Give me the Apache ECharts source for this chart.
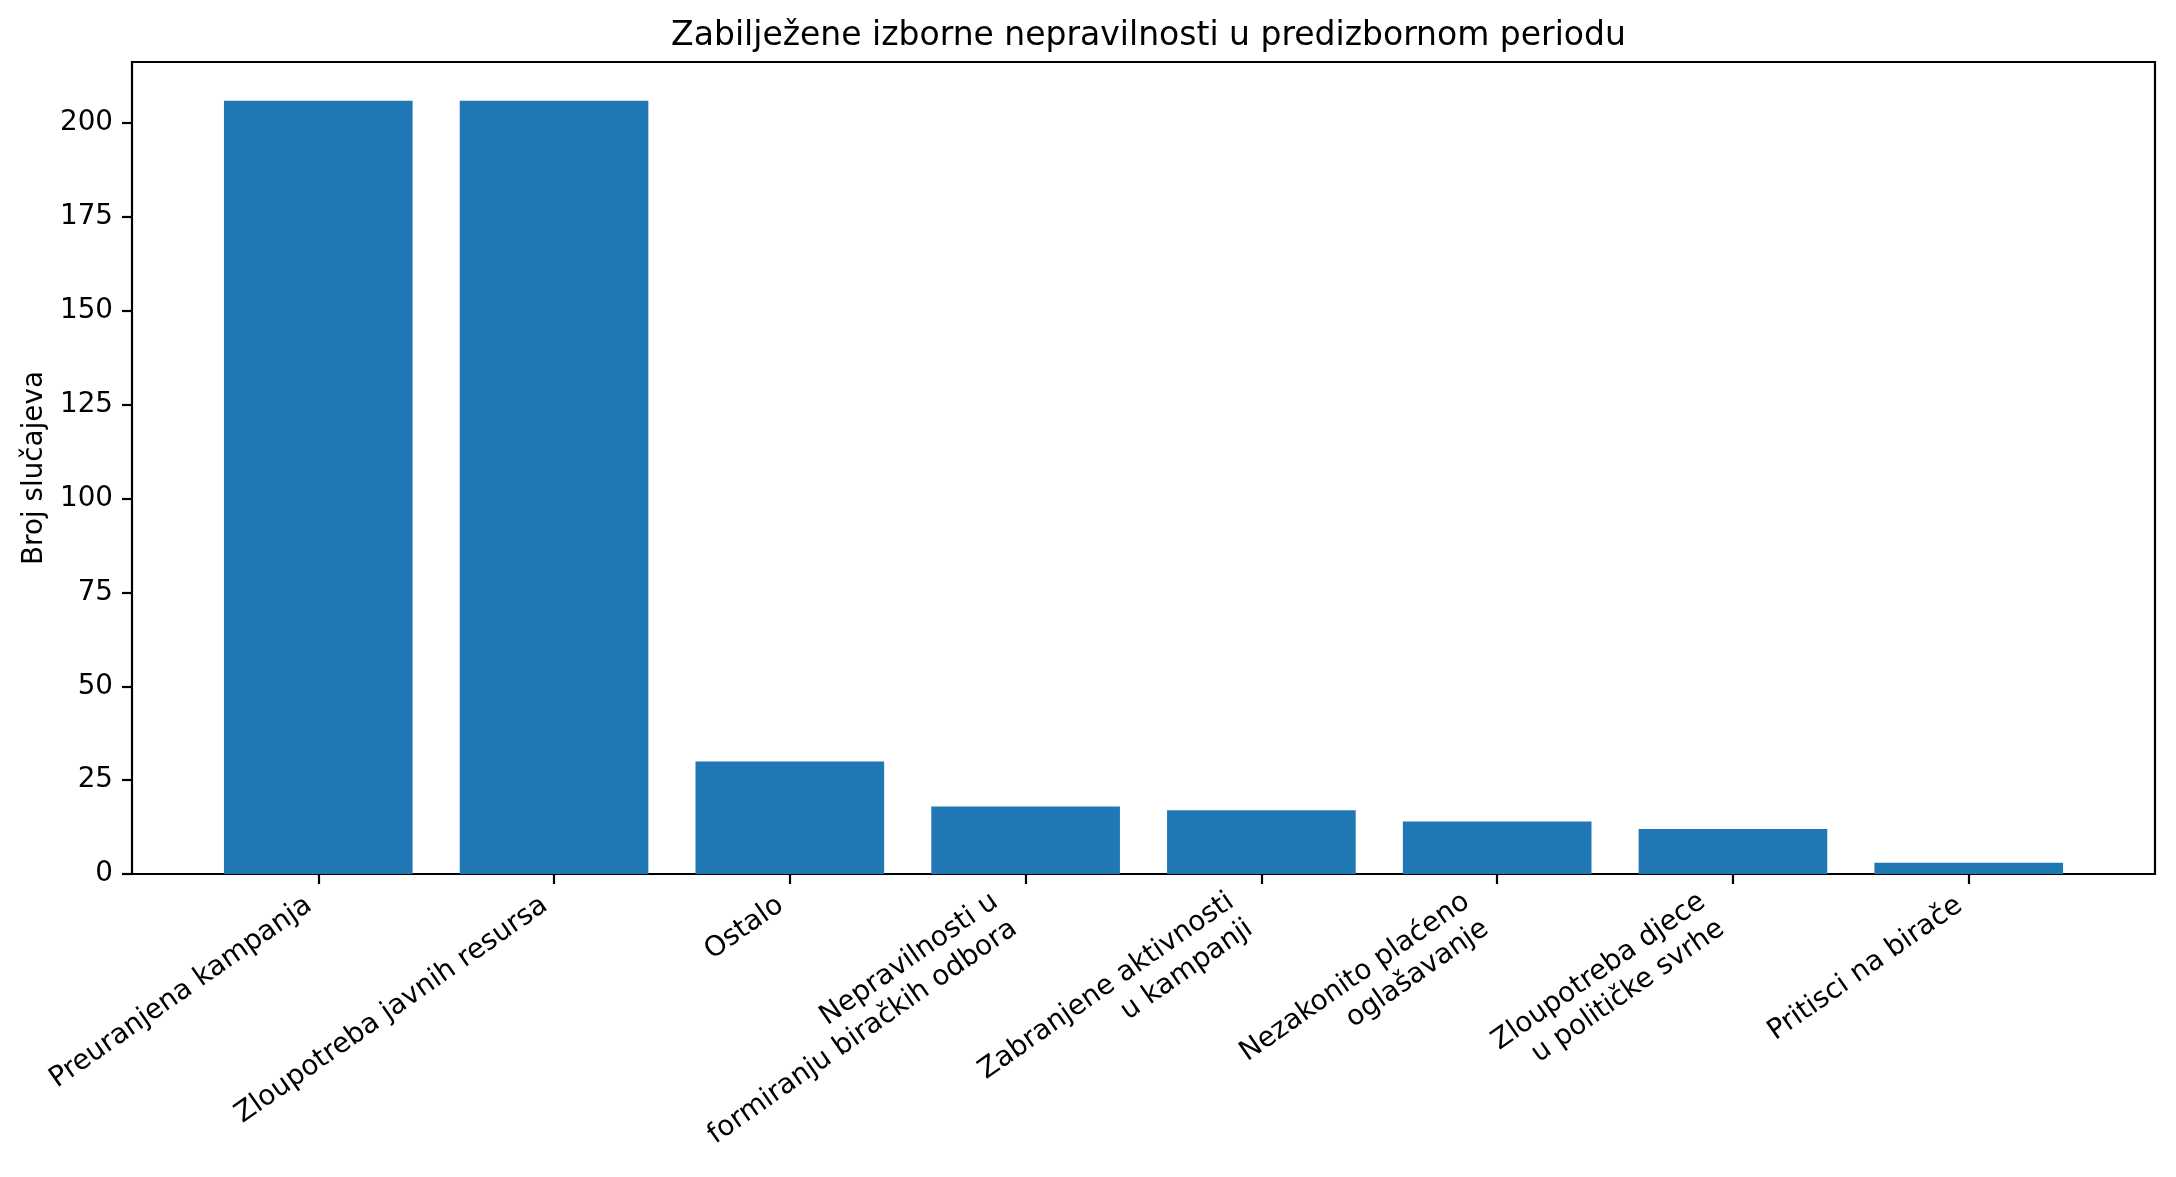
<!DOCTYPE html>
<html>
<head>
<meta charset="utf-8">
<script src="https://cdn.jsdelivr.net/npm/echarts@6/dist/echarts.min.js"></script>
<style>
    html, body { margin: 0; padding: 0; background: #fff; }
    #chart { width: 2176px; height: 1177px; }
</style>
</head>
<body>
<div id="chart"></div>
<script>
    var categories = [
        'Preuranjena kampanja',
        'Zloupotreba javnih resursa',
        'Ostalo',
        'Nepravilnosti u\nformiranju biračkih odbora',
        'Zabranjene aktivnosti\nu kampanji',
        'Nezakonito plaćeno\noglašavanje',
        'Zloupotreba djece\nu političke svrhe',
        'Pritisci na birače'
    ];
    var counts = [206, 206, 30, 18, 17, 14, 12, 3];

    var titleText = 'Zabilježene izborne nepravilnosti u predizbornom periodu';
    var yName = 'Broj slučajeva';
    var yMax = 216.3;
    var yStep = 25;

    var FONT = '"DejaVu Sans", sans-serif';
    var BLACK = '#000';
    var FONT_SIZE = 27.8;
    var LINE_H = 33;

    // outer box (the frame) and inner box where the category bands sit,
    // so bars land where matplotlib's -0.79..7.79 x-limits put them
    var frame = { left: 132, right: 21, top: 62, bottom: 303 };
    var unit = (2176 - frame.left - frame.right) / 8.58;
    var inner = {
        left: frame.left + 0.29 * unit,
        right: frame.right + 0.29 * unit,
        top: frame.top,
        bottom: frame.bottom
    };

    // matplotlib puts the top-right corner of the rotated label's bbox
    // under the tick; echarts rotates around the text anchor, so pad the
    // box to shift it there
    var ROT = 35 * Math.PI / 180;
    var LABEL_MARGIN = -8;
    var LABEL_DX = 24;
    var LABEL_DY = 49;
    var EXTRA_LINE_DX = 8;
    var EXTRA_LINE_DY = 11;

    function labelPadding(text) {
        var lines = text.split('\n').length;
        var h = lines * LINE_H;
        var s = Math.sin(ROT), c = Math.cos(ROT);
        // wanted screen offset of the text's top-right corner from the anchor
        var x0 = -h * s + LABEL_DX + (lines - 1) * EXTRA_LINE_DX;
        var y0 = LABEL_DY + (lines - 1) * EXTRA_LINE_DY - LABEL_MARGIN;
        var pr = -x0 * c + y0 * s;
        var pt = x0 * s + y0 * c;
        return [pt, pr, 0, 0];
    }

    var categoryItems = categories.map(function (name) {
        return { value: name, textStyle: { padding: labelPadding(name) } };
    });

    var chart = echarts.init(document.getElementById('chart'));

    chart.setOption({
        animation: false,
        backgroundColor: '#fff',
        title: {
            text: titleText,
            left: (frame.left + 2176 - frame.right) / 2,
            textAlign: 'center',
            top: 15,
            textStyle: { fontFamily: FONT, fontSize: 33, fontWeight: 'normal', color: BLACK }
        },
        grid: [
            {
                left: frame.left, right: frame.right, top: frame.top, bottom: frame.bottom,
                show: true, borderColor: BLACK, borderWidth: 2.2, backgroundColor: 'transparent'
            },
            {
                left: inner.left, right: inner.right, top: inner.top, bottom: inner.bottom
            }
        ],
        xAxis: [
            { type: 'value', gridIndex: 0, min: 0, max: 1, show: false },
            {
                type: 'category',
                gridIndex: 1,
                data: categoryItems,
                axisLine: { show: false },
                axisTick: {
                    show: true, alignWithLabel: true, length: 10,
                    lineStyle: { color: BLACK, width: 2.2 }
                },
                axisLabel: {
                    interval: 0,
                    rotate: 35,
                    margin: LABEL_MARGIN,
                    align: 'right',
                    verticalAlign: 'top',
                    color: BLACK,
                    fontFamily: FONT,
                    fontSize: FONT_SIZE,
                    lineHeight: LINE_H,
                    // rich tokens so the per-item padding is honoured
                    formatter: function (v) {
                        return v.split('\n').map(function (s) { return '{c|' + s + '}'; }).join('\n');
                    },
                    rich: {
                        c: { align: 'right', fontFamily: FONT, fontSize: FONT_SIZE, lineHeight: LINE_H, color: BLACK }
                    }
                },
                splitLine: { show: false }
            }
        ],
        yAxis: [
            {
                type: 'value',
                gridIndex: 0,
                min: 0,
                max: yMax,
                interval: yStep,
                name: yName,
                nameLocation: 'middle',
                nameGap: 82,
                nameTextStyle: { fontFamily: FONT, fontSize: FONT_SIZE, color: BLACK },
                axisLine: { show: false },
                axisTick: { show: true, length: 10, lineStyle: { color: BLACK, width: 2.2 } },
                axisLabel: { margin: 19, color: BLACK, fontFamily: FONT, fontSize: FONT_SIZE, showMaxLabel: false },
                splitLine: { show: false }
            },
            { type: 'value', gridIndex: 1, min: 0, max: yMax, show: false }
        ],
        series: [{
            type: 'bar',
            xAxisIndex: 1,
            yAxisIndex: 1,
            data: counts,
            barWidth: '80%',
            itemStyle: { color: '#1f77b4' }
        }]
    });
</script>
</body>
</html>
